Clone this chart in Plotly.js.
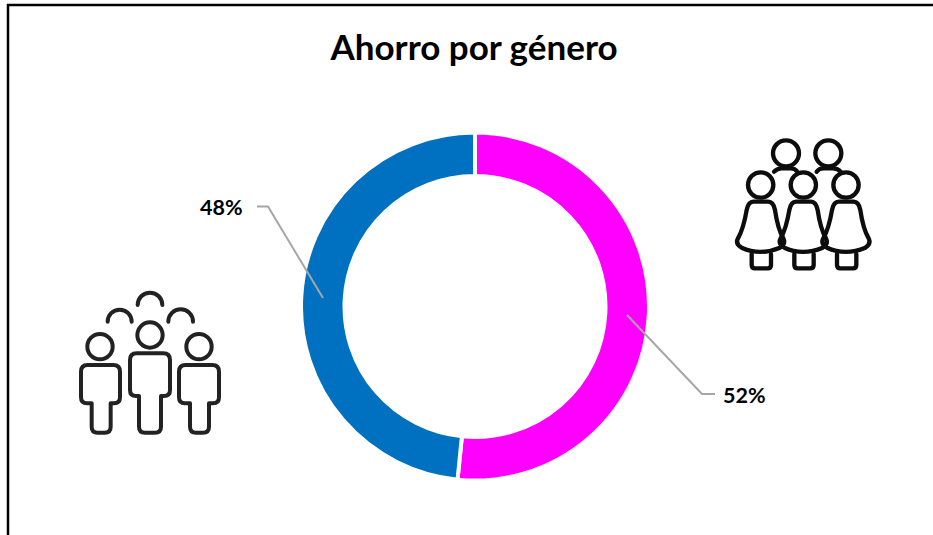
<!DOCTYPE html>
<html lang="es">
<head>
<meta charset="utf-8">
<script src="https://cdn.plot.ly/plotly-3.0.1.min.js"></script>
<style>html,body{margin:0;padding:0;background:#fff;overflow:hidden}#chart{width:933px;height:535px}</style>
</head>
<body>
<div id="chart"></div>
<script>
const categories = ['Mujeres', 'Hombres'];
const shares = [51.6, 48.4];
const sliceColors = ['#FF00FF', '#0070C0'];
const chartTitle = 'Ahorro por género';

const W = 933, H = 535;
const px = x => x / W;
const py = y => 1 - y / H;
const total = shares.reduce((a, b) => a + b, 0);
const pctLabel = v => Math.round(v / total * 100) + '%';

function polyline(points, color, width) {
  const d = points.map((p, i) => (i ? 'L' : 'M') + px(p[0]) + ' ' + py(p[1])).join(' ');
  return {type: 'path', xref: 'paper', yref: 'paper', path: d, line: {color: color, width: width}, layer: 'above'};
}

function circleSvg(c) { return `<circle cx="${c[0]}" cy="${c[1]}" r="${c[2]}"/>`; }
function svgUri(w, h, inner) {
  const svg = `<svg xmlns="http://www.w3.org/2000/svg" width="${w}" height="${h}" viewBox="0 0 ${w} ${h}"><g fill="none" stroke="${inner.color}" stroke-width="${inner.sw}" stroke-linecap="round" stroke-linejoin="round">${inner.body}</g></svg>`;
  return 'data:image/svg+xml;base64,' + btoa(svg);
}

const womenBody = [];
[0, 128, 256].forEach(dx => {
  womenBody.push(`<g transform="translate(${dx} 0)"><path d="M100 215H145Q160 215 165 240C170 275 178 305 190 325Q198 342 180 353Q120 378 65 353Q45 342 54 325C68 300 75 270 80 240Q85 215 100 215Z"/><path d="M95 372V405Q95 415 105 415H143Q153 415 153 405V372"/><circle cx="122" cy="165" r="38"/></g>`);
});
const womenSvg = svgUri(510, 450, {color: '#0d0d0d', sw: 13, body:
  womenBody.join('') + [[198, 70, 39], [325, 70, 39]].map(circleSvg).join('') +
  '<path d="M162 125Q172 115 185 115H212Q225 115 232 125"/><path d="M290 125Q297 115 310 115H340Q353 115 362 125"/>'});

function man(top, bottom, left, right, legL, legR) {
  return `<path d="M${left + 20} ${top}H${right - 20}Q${right} ${top} ${right} ${top + 20}V${bottom - 18}Q${right} ${bottom} ${right - 18} ${bottom}H${legR}V${440}Q${legR} 458 ${legR - 18} 458H${legL + 18}Q${legL} 458 ${legL} 440V${bottom}H${left + 18}Q${left} ${bottom} ${left} ${bottom - 18}V${top + 20}Q${left} ${top} ${left + 20} ${top}Z"/>`;
}
const menSvg = svgUri(510, 480, {color: '#222222', sw: 12, body:
  man(220, 348, 195, 315, 222, 288) + man(255, 370, 48, 165, 80, 137) + man(255, 370, 342, 462, 375, 432) +
  [[255, 165, 38], [105, 200, 38], [402, 200, 38]].map(circleSvg).join('') +
  '<path d="M218 75A37 37 0 0 1 292 75"/><path d="M128 125A36 36 0 0 1 200 125"/><path d="M310 125A37 37 0 0 1 384 125"/>'});

const data = [{
  type: 'pie',
  labels: categories,
  values: shares,
  sort: false,
  direction: 'clockwise',
  rotation: 0,
  hole: 0.75,
  textinfo: 'none',
  hoverinfo: 'label+percent',
  automargin: false,
  marker: {colors: sliceColors, line: {color: '#ffffff', width: 4}},
  domain: {x: [px(301), px(649)], y: [py(480.5), py(132.5)]},
  showlegend: false
}];

const labelFont = {family: 'Lato, Carlito, sans-serif', size: 21.5, color: '#000000', weight: 700};

const layout = {
  width: W, height: H,
  margin: {l: 0, r: 0, t: 0, b: 0},
  paper_bgcolor: '#ffffff',
  showlegend: false,
  title: {
    text: '<b>' + chartTitle + '</b>',
    x: px(474), xanchor: 'center', xref: 'paper',
    y: py(48), yanchor: 'middle', yref: 'paper',
    font: {family: 'Lato, Carlito, sans-serif', size: 35, color: '#000000'}
  },
  annotations: [
    {xref: 'paper', yref: 'paper', x: px(744), y: py(394.5), xanchor: 'center', yanchor: 'middle', showarrow: false, text: '<b>' + pctLabel(shares[0]) + '</b>', font: labelFont},
    {xref: 'paper', yref: 'paper', x: px(221), y: py(207), xanchor: 'center', yanchor: 'middle', showarrow: false, text: '<b>' + pctLabel(shares[1]) + '</b>', font: labelFont}
  ],
  shapes: [
    polyline([[627, 315], [702, 394], [715, 394]], '#A6A6A6', 2),
    polyline([[323, 298], [268, 206.5], [257, 206.5]], '#A6A6A6', 2),
    polyline([[8, 535], [8, 5], [933, 5]], '#000000', 2.5)
  ],
  images: [
    {source: womenSvg, xref: 'paper', yref: 'paper', x: px(720), y: py(130), sizex: 170 / W, sizey: 150 / H, xanchor: 'left', yanchor: 'top', sizing: 'stretch', layer: 'above'},
    {source: menSvg, xref: 'paper', yref: 'paper', x: px(65), y: py(280), sizex: 170 / W, sizey: 160 / H, xanchor: 'left', yanchor: 'top', sizing: 'stretch', layer: 'above'}
  ]
};

Plotly.newPlot('chart', data, layout, {displayModeBar: false, responsive: false});
</script>
</body>
</html>
